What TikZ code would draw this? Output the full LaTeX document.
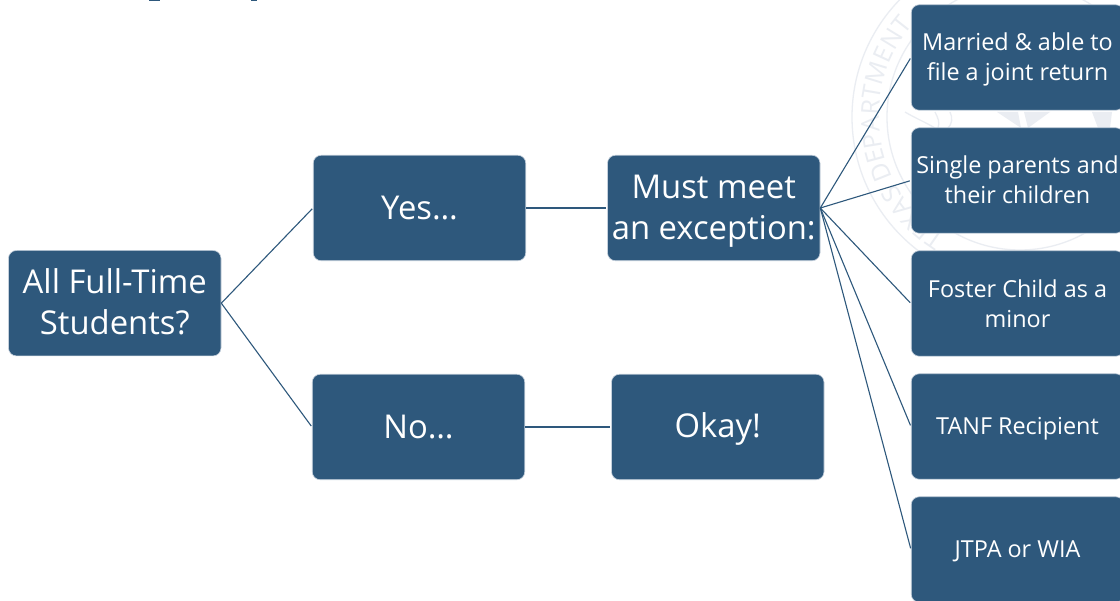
\documentclass[tikz,border=0pt]{standalone}
\usepackage{fontspec}
\setmainfont{Open Sans}
\usetikzlibrary{decorations.text}
\definecolor{boxblue}{HTML}{2E587C}
\definecolor{edgeblue}{HTML}{C5D0DC}
\definecolor{seal}{HTML}{EAEDF2}
\newcommand\pushdn[1]{\rule{0pt}{\dimexpr .76em+#1\relax}}
\newcommand\pushup[1]{\rule[-#1]{0pt}{0pt}}
\tikzset{
  box/.style={draw=edgeblue,line width=0.6pt,fill=boxblue,rounded corners=8pt,text=white,align=center,inner sep=0pt,minimum width=212.5pt,minimum height=105.5pt},
  big/.style={box,font=\fontsize{32.8}{40.5}\selectfont},
  small/.style={box,font=\fontsize{23.4}{30}\selectfont},
  link/.style={draw=boxblue,line width=1.1pt,shorten >=1.2pt},
  sealline/.style={draw=seal,line width=1.3pt},
}
\begin{document}
\begin{tikzpicture}[x=1pt,y=-1pt]
\useasboundingbox (0,0) rectangle (1120,601);
\fill[white] (0,0) rectangle (1120,601);
% watermark
\begin{scope}
\clip (0,0) rectangle (1120,601);
\draw[sealline] (1020,117) circle[radius=168pt];
\draw[sealline] (1020,117) circle[radius=133pt];
\path[decorate,decoration={text along path,text align={fit to path},
   text={|\fontsize{25}{25}\selectfont\color{seal}|TEXAS DEPARTMENT}}]
   (1020,117) ++(238:141pt) arc[start angle=238,end angle=139,radius=141pt];
\fill[seal] (997,112) -- (1021,128) -- (1018,112) -- cycle;
\fill[seal] (1024,112) -- (1028,128) -- (1050,112) -- cycle;
\draw[sealline] (905,112) .. controls (915,118) and (925,122) .. (935,128);
\draw[sealline] (935,112) .. controls (938,118) and (940,122) .. (938,128);
\draw[sealline] (950,112) .. controls (953,118) and (952,124) .. (948,128);
\fill[seal] (1092,112) -- (1098,128) -- (1110,128) -- (1112,112) -- cycle;
\end{scope}
% title fragments
\fill[boxblue] (149,0) rectangle (160,1.4);
\fill[boxblue] (251,0) rectangle (257,1.4);
% nodes
\node[big] (root) at (114.75,303.2) {All Full-Time\\Students?\pushup{3pt}};
\node[big] (yes) at (419.5,208) {Yes…};
\node[big] (must) at (713.75,208) {\pushdn{5pt}Must meet\\an exception:};
\node[big] (no) at (418.5,427) {No…};
\node[big] (ok) at (717.75,427) {\pushdn{4pt}Okay!};
\node[small] (a) at (1017.5,57.5) {\pushdn{3pt}Married \& able to\\file a joint return};
\node[small] (b) at (1017.5,180.5) {Single parents and\\their children\pushup{2pt}};
\node[small] (c) at (1017.5,303.5) {Foster Child as a\\minor};
\node[small] (d) at (1017.5,426.5) {\pushdn{4pt}TANF Recipient};
\node[small] (e) at (1017.5,549.5) {\pushdn{2pt}JTPA or WIA};
% connectors
\draw[link] (root.east) -- (yes.west);
\draw[link] (root.east) -- (no.west);
\draw[link] (yes.east) -- (must.west);
\draw[link] (no.east) -- (ok.west);
\foreach \t in {a,b,c,d,e} \draw[link] (must.east) -- (\t.west);
\end{tikzpicture}
\end{document}
